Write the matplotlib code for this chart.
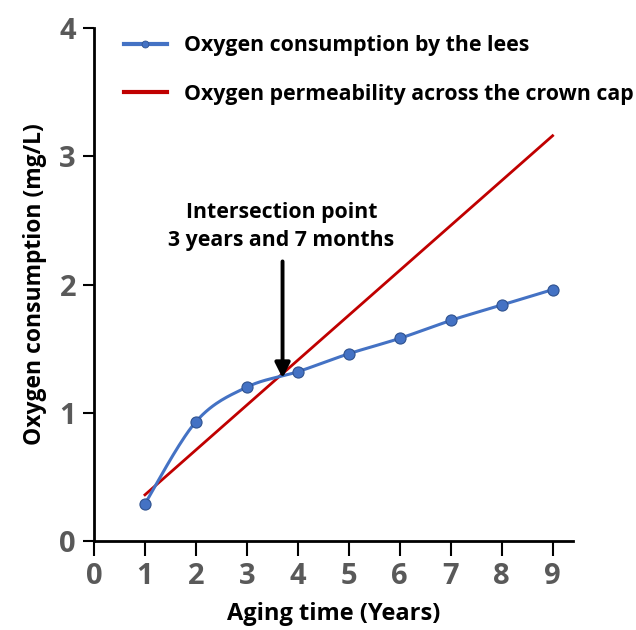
import numpy as np
import matplotlib
matplotlib.use("Agg")
import matplotlib.pyplot as plt

plt.rcParams['font.family'] = ['Open Sans', 'DejaVu Sans']
plt.rcParams['font.weight'] = 'bold'

# Measured values
years = [1, 2, 3, 4, 5, 6, 7, 8, 9]
lees_o2 = [0.29, 0.93, 1.20, 1.32, 1.46, 1.58, 1.72, 1.84, 1.96]
cap_years = [1, 9]
cap_o2 = [0.36, 3.16]
cross_year = 3.7
cross_o2 = 1.27

BLUE = '#4472C4'
RED = '#C00000'
GRAY = '#595959'


def smooth(x, y, n=30):
    # Catmull-Rom curve through the points, like a spreadsheet "smoothed line"
    p = np.column_stack([x, y]).astype(float)
    p = np.vstack([p[0], p, p[-1]])
    out = []
    t = np.linspace(0, 1, n, endpoint=False)[:, None]
    for i in range(1, len(p) - 2):
        p0, p1, p2, p3 = p[i - 1], p[i], p[i + 1], p[i + 2]
        seg = 0.5 * ((2 * p1) + (-p0 + p2) * t +
                     (2 * p0 - 5 * p1 + 4 * p2 - p3) * t ** 2 +
                     (-p0 + 3 * p1 - 3 * p2 + p3) * t ** 3)
        out.append(seg)
    out.append(p[-2][None, :])
    out = np.vstack(out)
    return out[:, 0], out[:, 1]


fig = plt.figure(figsize=(6.36, 6.30), dpi=100)
ax = fig.add_axes([94 / 636, 1 - 541 / 630, 479 / 636, 513 / 630])

sx, sy = smooth(years, lees_o2)
ax.plot(sx, sy, color=BLUE, lw=2.2, zorder=3)
ax.plot(years, lees_o2, 'o', color=BLUE, mec='#2F528F', mew=0.8, ms=8, zorder=4)
ax.plot(cap_years, cap_o2, color=RED, lw=2.0, zorder=2)

# legend proxies
h1, = ax.plot([], [], '-o', color=BLUE, mec='#2F528F', mew=0.6, ms=5, lw=3,
              label='Oxygen consumption by the lees')
h2, = ax.plot([], [], '-', color=RED, lw=3,
              label='Oxygen permeability across the crown cap')
leg = ax.legend(handles=[h1, h2], loc='upper left', frameon=False,
                bbox_to_anchor=(124 / 636, 1 - 35 / 630), bbox_transform=fig.transFigure,
                borderpad=0, borderaxespad=0, handlelength=2.0, handletextpad=0.8,
                labelspacing=1.3, prop={'size': 15.3, 'weight': 'bold'})

ax.annotate('', xy=(cross_year, cross_o2), xytext=(cross_year, 2.18),
            arrowprops=dict(arrowstyle='-|>,head_length=0.9,head_width=0.45',
                            color='black', lw=2.8, shrinkA=0, shrinkB=0))
ax.text(cross_year - 0.02, 2.45, 'Intersection point\n3 years and 7 months',
        ha='center', va='center', fontsize=15.3, fontweight='bold',
        linespacing=1.45)

ax.set_xlim(0, 9.4)
ax.set_ylim(0, 4)
ax.set_xticks(range(0, 10))
ax.set_yticks(range(0, 5))
for s in ['top', 'right']:
    ax.spines[s].set_visible(False)
for s in ['left', 'bottom']:
    ax.spines[s].set_linewidth(2.0)
ax.tick_params(axis='x', length=11, width=1.5, pad=4, labelsize=21, labelcolor=GRAY)
ax.tick_params(axis='y', length=8, width=1.5, pad=5, labelsize=21, labelcolor=GRAY)
for lab in ax.get_xticklabels() + ax.get_yticklabels():
    lab.set_fontweight('bold')

ax.set_xlabel('Aging time (Years)', fontsize=17, fontweight='bold', labelpad=8)
ax.set_ylabel('Oxygen consumption (mg/L)', fontsize=16.5, fontweight='bold', labelpad=9)

fig.savefig('out.png', dpi=100)
